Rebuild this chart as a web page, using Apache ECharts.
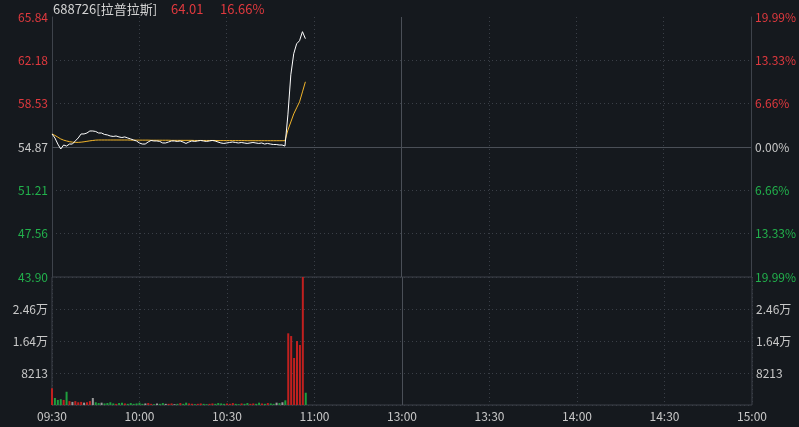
<!DOCTYPE html>
<html><head><meta charset="utf-8">
<script src="https://cdn.jsdelivr.net/npm/echarts@6/dist/echarts.min.js"></script>
<style>html,body{margin:0;padding:0;background:#15191e;}#c{width:799px;height:427px;}</style>
</head><body><div id="c"></div>
<script>
const stockName = '688726[拉普拉斯]';
const prevClose = 54.87;
const limitPct = 19.99;
const timeLabels = ['09:30','10:00','10:30','11:00','13:00','13:30','14:00','14:30','15:00'];
const prices = [
55.97,55.63,55.12,54.70,55.04,54.95,55.12,55.12,55.38,55.63,
55.97,55.97,56.05,56.22,56.22,56.18,56.05,56.05,55.93,55.89,
55.80,55.76,55.80,55.72,55.67,55.72,55.63,55.55,55.46,55.38,
55.21,55.12,55.12,55.29,55.42,55.38,55.38,55.34,55.21,55.21,
55.29,55.38,55.38,55.34,55.38,55.29,55.17,55.29,55.38,55.34,
55.38,55.42,55.38,55.34,55.38,55.42,55.38,55.29,55.21,55.17,
55.21,55.25,55.29,55.25,55.21,55.25,55.21,55.17,55.21,55.25,
55.21,55.17,55.21,55.12,55.17,55.12,55.08,55.08,55.04,55.04,
54.95,57.58,60.96,62.74,63.58,63.84,64.60,64.01
];
const avgPrices = [
55.97,55.85,55.70,55.55,55.45,55.38,55.32,55.28,55.26,55.26,
55.28,55.31,55.35,55.39,55.42,55.45,55.46,55.46,55.46,55.46,
55.46,55.46,55.46,55.46,55.46,55.46,55.46,55.45,55.45,55.45,
55.45,55.45,55.45,55.45,55.44,55.44,55.44,55.44,55.44,55.44,
55.44,55.43,55.43,55.43,55.43,55.43,55.43,55.43,55.43,55.42,
55.42,55.42,55.42,55.42,55.42,55.42,55.42,55.41,55.41,55.41,
55.41,55.41,55.41,55.41,55.41,55.41,55.41,55.40,55.40,55.40,
55.40,55.40,55.40,55.40,55.40,55.40,55.40,55.40,55.40,55.40,
55.40,56.30,56.98,57.66,58.17,58.68,59.52,60.37
];
const volumes = [
4300,1800,1300,1500,1300,3400,1000,800,1000,700,
800,600,700,1000,1800,700,500,600,400,500,
700,400,300,500,600,400,300,500,300,400,
600,300,400,500,300,200,400,300,500,300,
300,400,200,300,500,300,600,400,300,200,
300,400,300,200,300,400,300,500,400,300,
400,300,500,300,200,400,300,500,300,400,
300,600,400,300,500,400,300,600,500,700,
1200,18400,17700,12060,16400,15400,32852,3150
];
const volumeMax = 32852;
const volumeStep = 8213;

const RED = '#e0393e', GREEN = '#22b14c', GRAY = '#c8c8c8';
const LINE = '#3e434b', DOT = '#3a3f47';
const FONT = '"Noto Sans CJK SC","Noto Sans",sans-serif';

const toPct = p => (p / prevClose - 1) * 100;
const pctColor = v => v > 0.001 ? RED : (v < -0.001 ? GREEN : GRAY);
const lastPrice = prices[prices.length - 1];
const lastPct = toPct(lastPrice);

const chart = echarts.init(document.getElementById('c'), null, {renderer: 'canvas'});
const pctInterval = limitPct / 3;
const yBase = {
  type: 'value', gridIndex: 0, min: -limitPct, max: limitPct, interval: pctInterval,
  axisTick: {show: false},
  axisLine: {show: true, lineStyle: {color: LINE}},
};
const option = {
  backgroundColor: '#15191e',
  animation: false,
  textStyle: {fontFamily: FONT},
  graphic: [
    {type: 'text', x: 53, y: 9, style: {text: stockName, fill: '#d2d2d2', font: '13px ' + FONT, verticalAlign: 'middle'}},
    {type: 'text', x: 171, y: 9, style: {text: lastPrice.toFixed(2), fill: pctColor(lastPct), font: '13px ' + FONT, verticalAlign: 'middle'}},
    {type: 'text', x: 220, y: 9, style: {text: lastPct.toFixed(2) + '%', fill: pctColor(lastPct), font: '13px ' + FONT, verticalAlign: 'middle'}}
  ],
  grid: [
    {left: 52, right: 47, top: 17, height: 260, show: false},
    {left: 52, right: 47, top: 277, height: 128, show: true, borderColor: LINE, borderWidth: 1, backgroundColor: 'transparent'}
  ],
  xAxis: [
    {type: 'value', gridIndex: 0, min: 0, max: 240, interval: 30,
     axisLine: {show: false}, axisTick: {show: false}, axisLabel: {show: false},
     splitLine: {show: true, lineStyle: {color: DOT, type: [1, 3]}}},
    {type: 'value', gridIndex: 1, min: 0, max: 240, interval: 30,
     axisLine: {show: false}, axisTick: {show: false},
     axisLabel: {show: true, color: GRAY, fontSize: 12, fontFamily: FONT, margin: 5,
       formatter: v => timeLabels[Math.round(v / 30)] || ''},
     splitLine: {show: true, lineStyle: {color: DOT, type: [1, 3]}}}
  ],
  yAxis: [
    Object.assign({}, yBase, {position: 'left',
      axisLabel: {color: v => pctColor(v), fontSize: 12, fontFamily: FONT, margin: 4,
        formatter: v => (prevClose * (1 + v / 100)).toFixed(2)},
      splitLine: {show: true, lineStyle: {color: [DOT, DOT, DOT, DOT, DOT, DOT, 'rgba(0,0,0,0)'], type: [1, 3]}}}),
    Object.assign({}, yBase, {position: 'right',
      axisLabel: {color: v => pctColor(v), fontSize: 12, fontFamily: FONT, margin: 4,
        formatter: v => Math.abs(v).toFixed(2) + '%'},
      splitLine: {show: false}}),
    {type: 'value', gridIndex: 1, position: 'left', min: 0, max: volumeMax, interval: volumeStep,
     axisLine: {show: false}, axisTick: {show: false},
     axisLabel: {color: GRAY, fontSize: 12, fontFamily: FONT, margin: 4, showMinLabel: false, showMaxLabel: false,
       formatter: v => v >= 10000 ? (v / 10000).toFixed(2) + '万' : String(Math.round(v))},
     splitLine: {show: true, lineStyle: {color: DOT, type: [1, 3]}}},
    {type: 'value', gridIndex: 1, position: 'right', min: 0, max: volumeMax, interval: volumeStep,
     axisLine: {show: false}, axisTick: {show: false},
     axisLabel: {color: GRAY, fontSize: 12, fontFamily: FONT, margin: 4, showMinLabel: false, showMaxLabel: false,
       formatter: v => v >= 10000 ? (v / 10000).toFixed(2) + '万' : String(Math.round(v))},
     splitLine: {show: false}}
  ],
  series: [
    {type: 'line', xAxisIndex: 0, yAxisIndex: 0, showSymbol: false, symbol: 'none',
     data: prices.map((p, i) => [i, toPct(p)]),
     lineStyle: {color: '#ffffff', width: 1}, z: 5,
     markLine: {silent: true, symbol: 'none', label: {show: false}, animation: false,
       lineStyle: {color: '#4a4f57', width: 1, type: 'solid'},
       data: [{yAxis: 0}, {xAxis: 120}]}},
    {type: 'line', xAxisIndex: 0, yAxisIndex: 0, showSymbol: false, symbol: 'none',
     data: avgPrices.map((p, i) => [i, toPct(p)]),
     lineStyle: {color: '#f2b52a', width: 1}, z: 4},
    {type: 'bar', xAxisIndex: 1, yAxisIndex: 2, barWidth: 2,
     data: volumes.map((v, i) => [i, v]),
     itemStyle: {color: params => {
       const i = params.dataIndex;
       const prev = i === 0 ? prevClose : prices[i - 1];
       return prices[i] > prev ? '#c0201f' : (prices[i] < prev ? '#1f9e3e' : '#9a9a9a');
     }},
     markLine: {silent: true, symbol: 'none', label: {show: false}, animation: false,
       lineStyle: {color: '#4a4f57', width: 1, type: 'solid'},
       data: [{xAxis: 120}]}}
  ]
};
chart.setOption(option);
</script>
</body></html>
